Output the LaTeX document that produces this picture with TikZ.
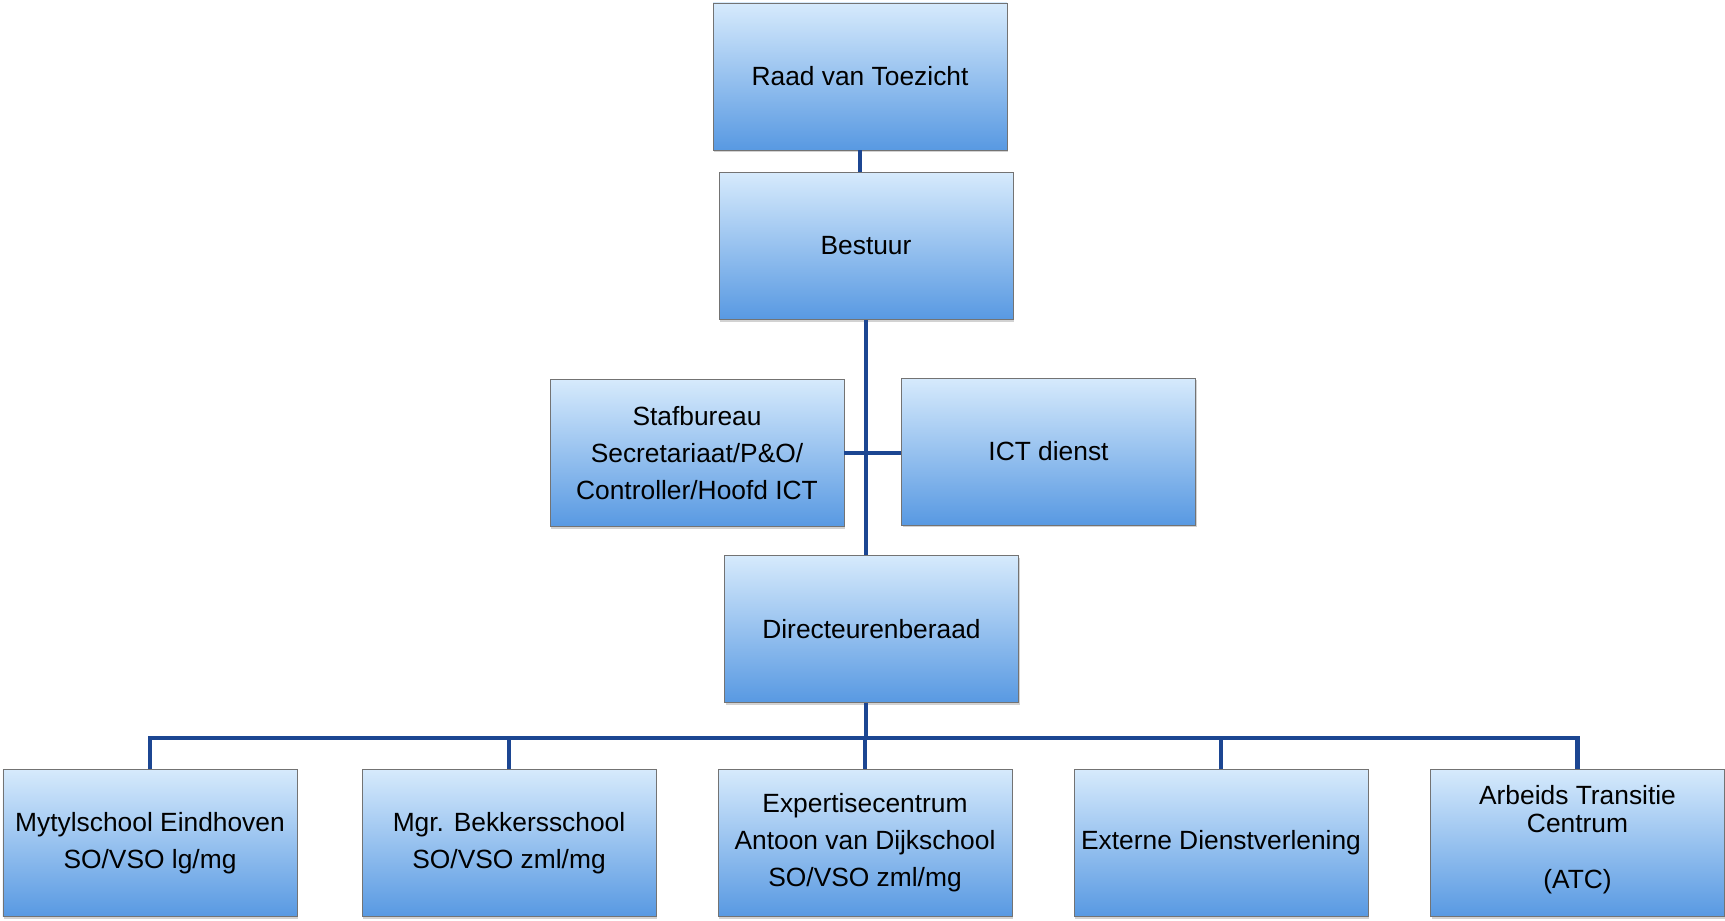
\documentclass[tikz,border=0pt]{standalone}
\usepackage{fontspec}
\setmainfont{Liberation Sans}
\usetikzlibrary{calc,shadows}

\definecolor{boxtop}{RGB}{214,234,252}
\definecolor{boxbot}{RGB}{88,153,226}
\definecolor{linkblue}{RGB}{28,70,146}

\begin{document}
\begin{tikzpicture}[
    org/.style={rectangle, draw=black!55, line width=0.5pt,
        top color=boxtop, bottom color=boxbot,
        minimum width=5.88cm, minimum height=2.94cm, inner sep=2pt,
        align=center, font=\fontsize{15}{21}\selectfont,
        drop shadow={shadow xshift=0.6pt, shadow yshift=-1.2pt, fill=black!35}},
    link/.style={draw=linkblue, line width=2.8pt}
    ]
    \useasboundingbox (0,0) rectangle (34.5,-18.42);

    % top of the tree
        \node[org] (RvT) at (17.2,-1.53) {Raad van Toezicht};
        \node[org] (Best) at (17.32,-4.92) {Bestuur};

    % staff next to the trunk
        \node[org] (Staf) at (13.94,-9.06) {Stafbureau\\Secretariaat/P\&O/\\Controller/Hoofd ICT};
        \node[org] (ICT) at (20.97,-9.03) {ICT dienst};

        \node[org] (DB) at (17.43,-12.58) {Directeurenberaad};

    % schools and services
        \node[org] (Myt) at (3.0,-16.86) {Mytylschool Eindhoven\\SO/VSO lg/mg};
        \node[org] (Bek) at (10.18,-16.86) {Mgr. Bekkersschool\\SO/VSO zml/mg};
        \node[org] (Exp) at (17.3,-16.86) {Expertisecentrum\\Antoon van Dijkschool\\SO/VSO zml/mg};
        \node[org] (Ext) at (24.42,-16.86) {Externe Dienstverlening};
        \node[org] (ATC) at (31.55,-16.86) {Arbeids Transitie\\[-5pt]Centrum\\[11pt](ATC)\\[-14pt]\mbox{}};

    % connectors
        \coordinate (bus) at (17.32,-14.76);

        \path[link] (RvT.south) -- (RvT.south |- Best.north);
        \path[link] (Best.south) -- (Best.south |- DB.north);
        \path[link] (Staf.east) -- (Staf.east -| ICT.west);
        \path[link] (bus) -- (bus |- DB.south);
        \path[link] (Myt.north) -- (Myt.north |- bus) -- (ATC.north |- bus) -- (ATC.north);
        \path[link] (Bek.north) -- (Bek.north |- bus);
        \path[link] (Exp.north) -- (Exp.north |- bus);
        \path[link] (Ext.north) -- (Ext.north |- bus);

\end{tikzpicture}
\end{document}
